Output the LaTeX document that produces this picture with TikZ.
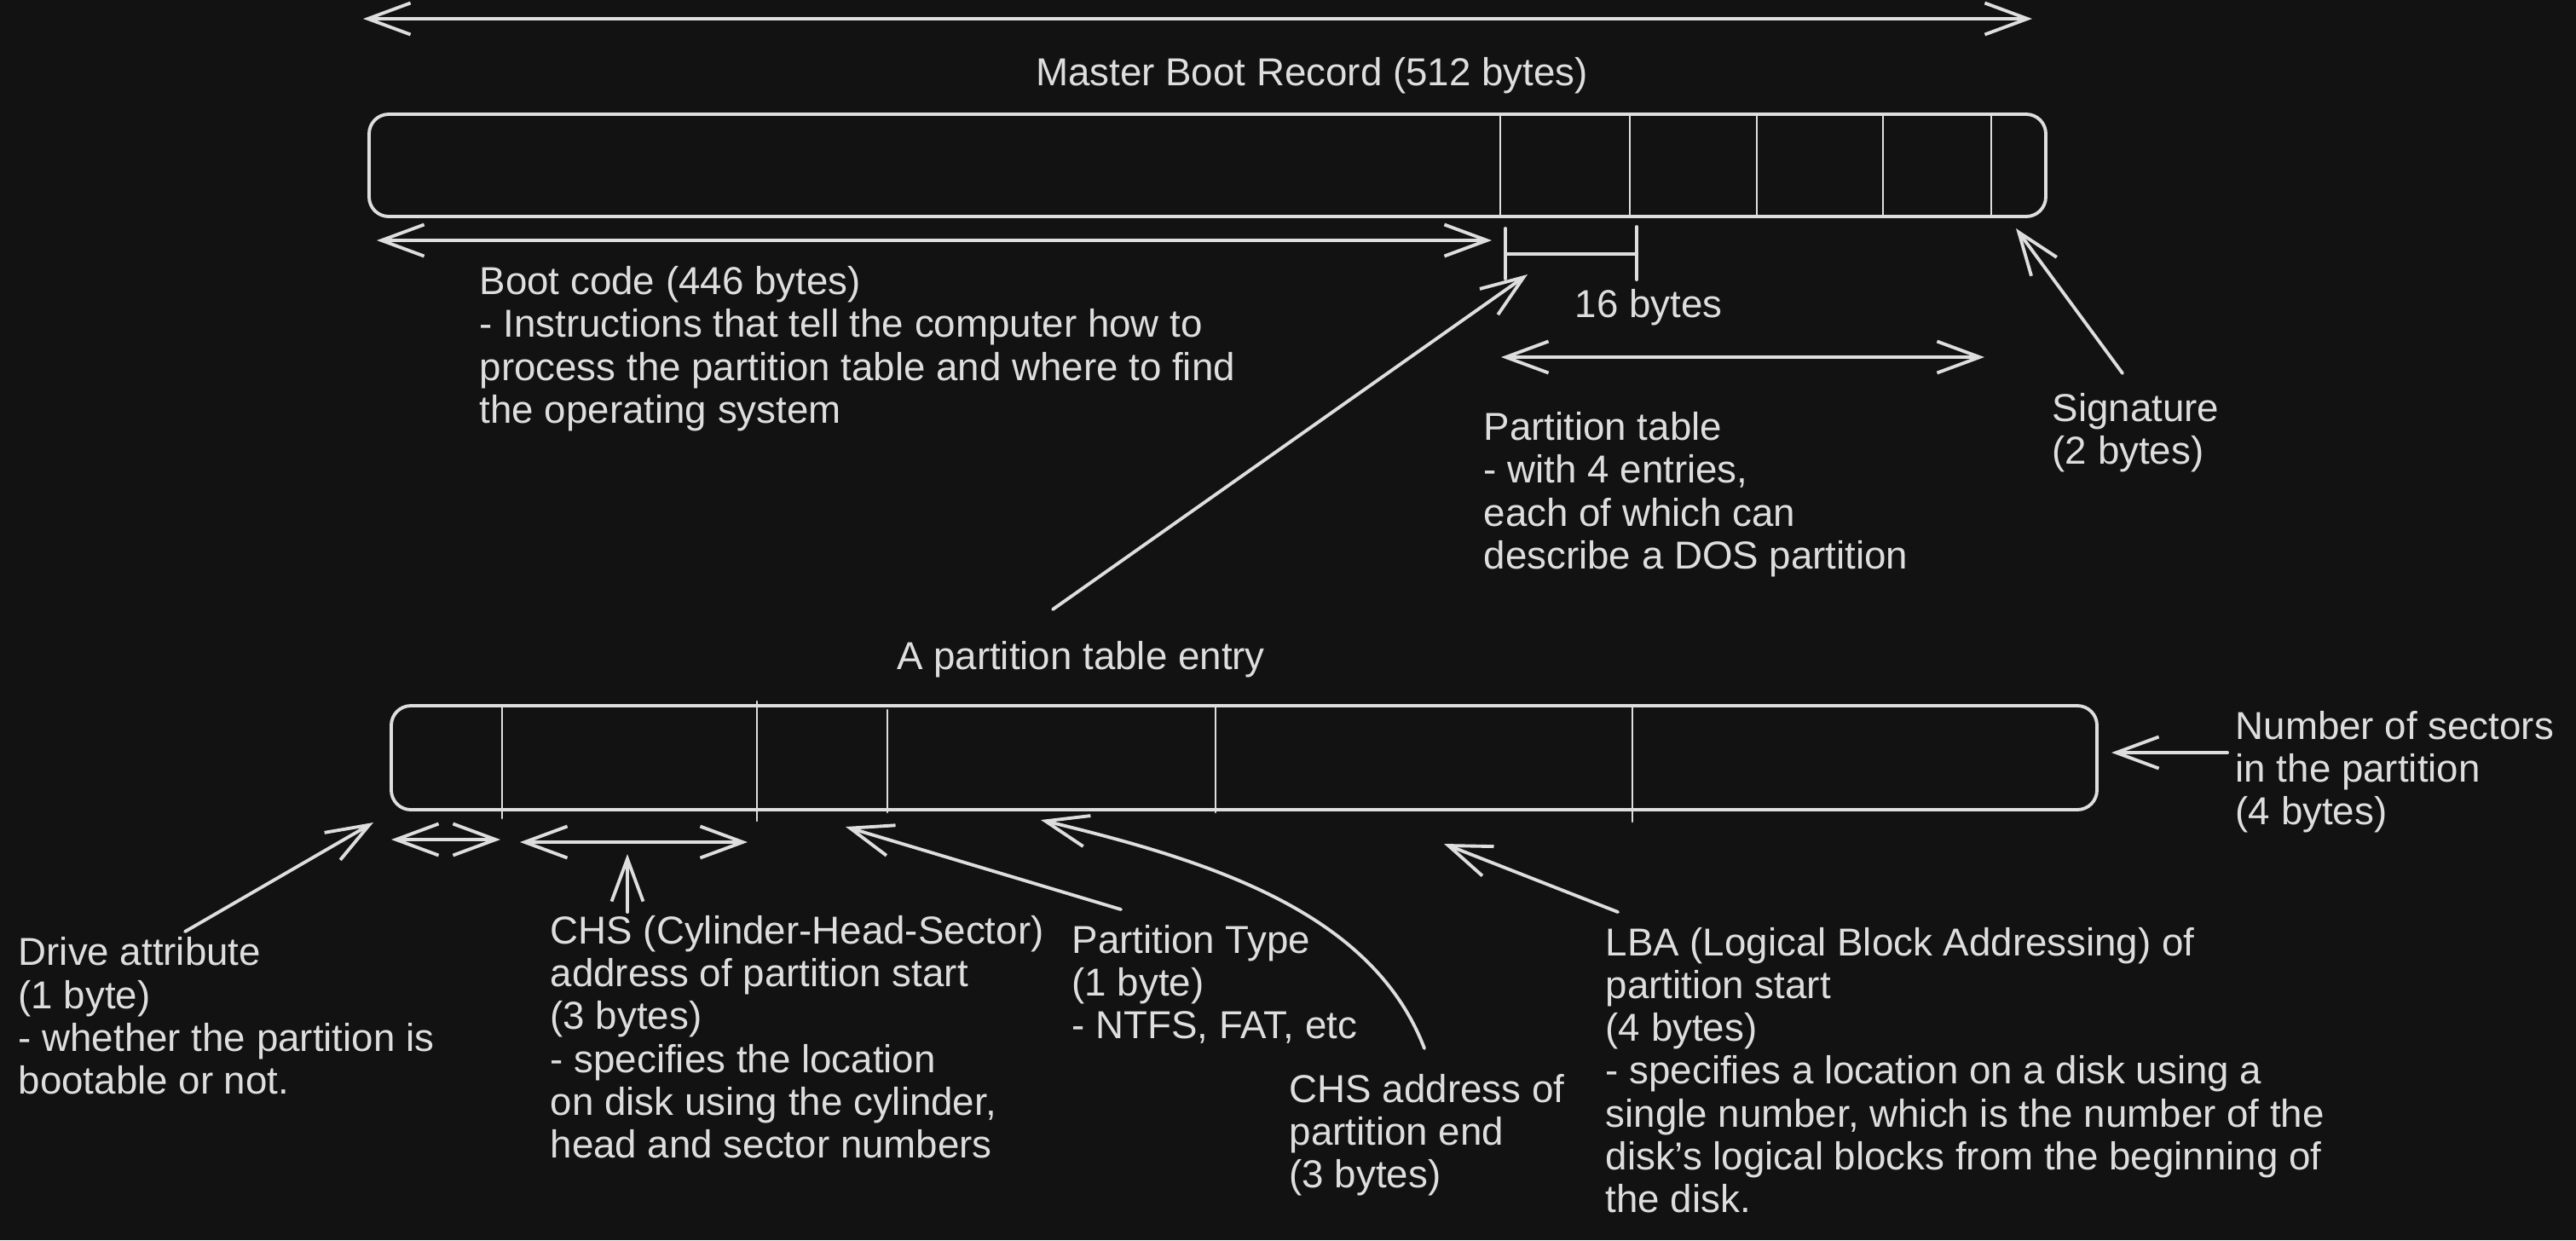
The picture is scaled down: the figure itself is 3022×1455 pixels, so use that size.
\documentclass[tikz,border=0pt]{standalone}
\usepackage{fontspec}
\setmainfont{Liberation Sans}
\usepackage{xcolor}
\usetikzlibrary{arrows.meta}
\definecolor{board}{RGB}{18,18,18}
\definecolor{chalk}{RGB}{222,222,222}
\tikzset{
  ink/.style={chalk,line width=1.1pt,line cap=round,line join=round},
  thin ink/.style={chalk,line width=0.8pt,line cap=round},
  txt/.style={text=chalk,font=\fontsize{13pt}{14.23pt}\selectfont,align=left,inner sep=0pt,anchor=base west}
}
\begin{document}
\begin{tikzpicture}[x=0.1mm,y=-0.1mm,>={Straight Barb[length=5mm,width=3.7mm]}]
\fill[board](0,0)rectangle(3022,1455);
\useasboundingbox(0,0)rectangle(3022,1455);
\coordinate(mbrL)at(426,22);\coordinate(mbrR)at(2384,22);
\coordinate(bootL)at(442,282);\coordinate(bootR)at(1750,282);
\coordinate(tabL)at(1761,419);\coordinate(tabR)at(2328,419);
\coordinate(sigTail)at(2490,438);\coordinate(sigTip)at(2365,268);
\coordinate(entTail)at(1235,715);\coordinate(entTip)at(1792,322);
\coordinate(nosTail)at(2613,883);\coordinate(nosTip)at(2477,883);
\coordinate(drvTail)at(217,1093);\coordinate(drvTip)at(438,965);
\coordinate(drvL)at(459,985);\coordinate(drvR)at(587,985);
\coordinate(chsL)at(610,988);\coordinate(chsR)at(877,988);
\coordinate(chsTail)at(736,1070);\coordinate(chsTip)at(736,1002);
\coordinate(typTail)at(1315,1067);\coordinate(typTip)at(992,970);
\coordinate(endTail)at(1671,1230);\coordinate(endTip)at(1221,962);
\coordinate(lbaTail)at(1898,1070);\coordinate(lbaTip)at(1694,990);

\draw[ink,rounded corners=2.3mm](433,134)rectangle(2400,254);
\foreach \x in {1760,1912,2061,2209,2336}\draw[thin ink](\x,134)--(\x,254);
\draw[ink,rounded corners=2.3mm](459,828)rectangle(2460,950);
\foreach \x/\a/\b in {589/830/960,888/823/963,1041/833/953,1426/829/953,1915/830/964}\draw[thin ink](\x,\a)--(\x,\b);

\node[txt,anchor=base](mbrTitle)at(1539,100){Master Boot Record (512 bytes)};
\node[txt](bootNote)at(562,496){Boot code (446 bytes)\\- Instructions that tell the computer how to\\process the partition table and where to find\\the operating system};
\node[txt,anchor=base](sixteen)at(1934,372){16 bytes};
\node[txt](tabNote)at(1740,667){Partition table\\- with 4 entries,\\each of which can\\describe a DOS partition};
\node[txt](sigNote)at(2407,544){Signature\\(2 bytes)};
\node[txt,anchor=base](entTitle)at(1268,785){A partition table entry};
\node[txt](nosNote)at(2622,967){Number of sectors\\in the partition\\(4 bytes)};
\node[txt](drvNote)at(21,1283){Drive attribute\\(1 byte)\\- whether the partition is\\bootable or not.};
\node[txt](chsNote)at(645,1358){CHS (Cylinder-Head-Sector)\\address of partition start\\(3 bytes)\\- specifies the location\\on disk using the cylinder,\\head and sector numbers};
\node[txt](typNote)at(1257,1218){Partition Type\\(1 byte)\\- NTFS, FAT, etc};
\node[txt](endNote)at(1512,1393){CHS address of\\partition end\\(3 bytes)};
\node[txt](lbaNote)at(1883,1422){LBA (Logical Block Addressing) of\\partition start\\(4 bytes)\\- specifies a location on a disk using a\\single number, which is the number of the\\disk's logical blocks from the beginning of\\the disk.};

\draw[ink,<->](mbrL)--(mbrR);
\draw[ink,<->](bootL)--(bootR);
\draw[ink](1766,268)--(1766,327)(1920,266)--(1920,328);
\draw[ink](1766,298)--(1920,298);
\draw[ink,<->](tabL)--(tabR);
\draw[ink,->](sigTail)--(sigTip);
\draw[ink,->](entTail)--(entTip);
\draw[ink,->](nosTail)--(nosTip);
\draw[ink,->](drvTail)--(drvTip);
\draw[ink,<->](drvL)--(drvR);
\draw[ink,<->](chsL)--(chsR);
\draw[ink,->](chsTail)--(chsTip);
\draw[ink,->](typTail)--(typTip);
\draw[ink,->](endTail)..controls(1610,1070)and(1420,1010)..(endTip);
\draw[ink,->](lbaTail)--(lbaTip);
\end{tikzpicture}
\end{document}
